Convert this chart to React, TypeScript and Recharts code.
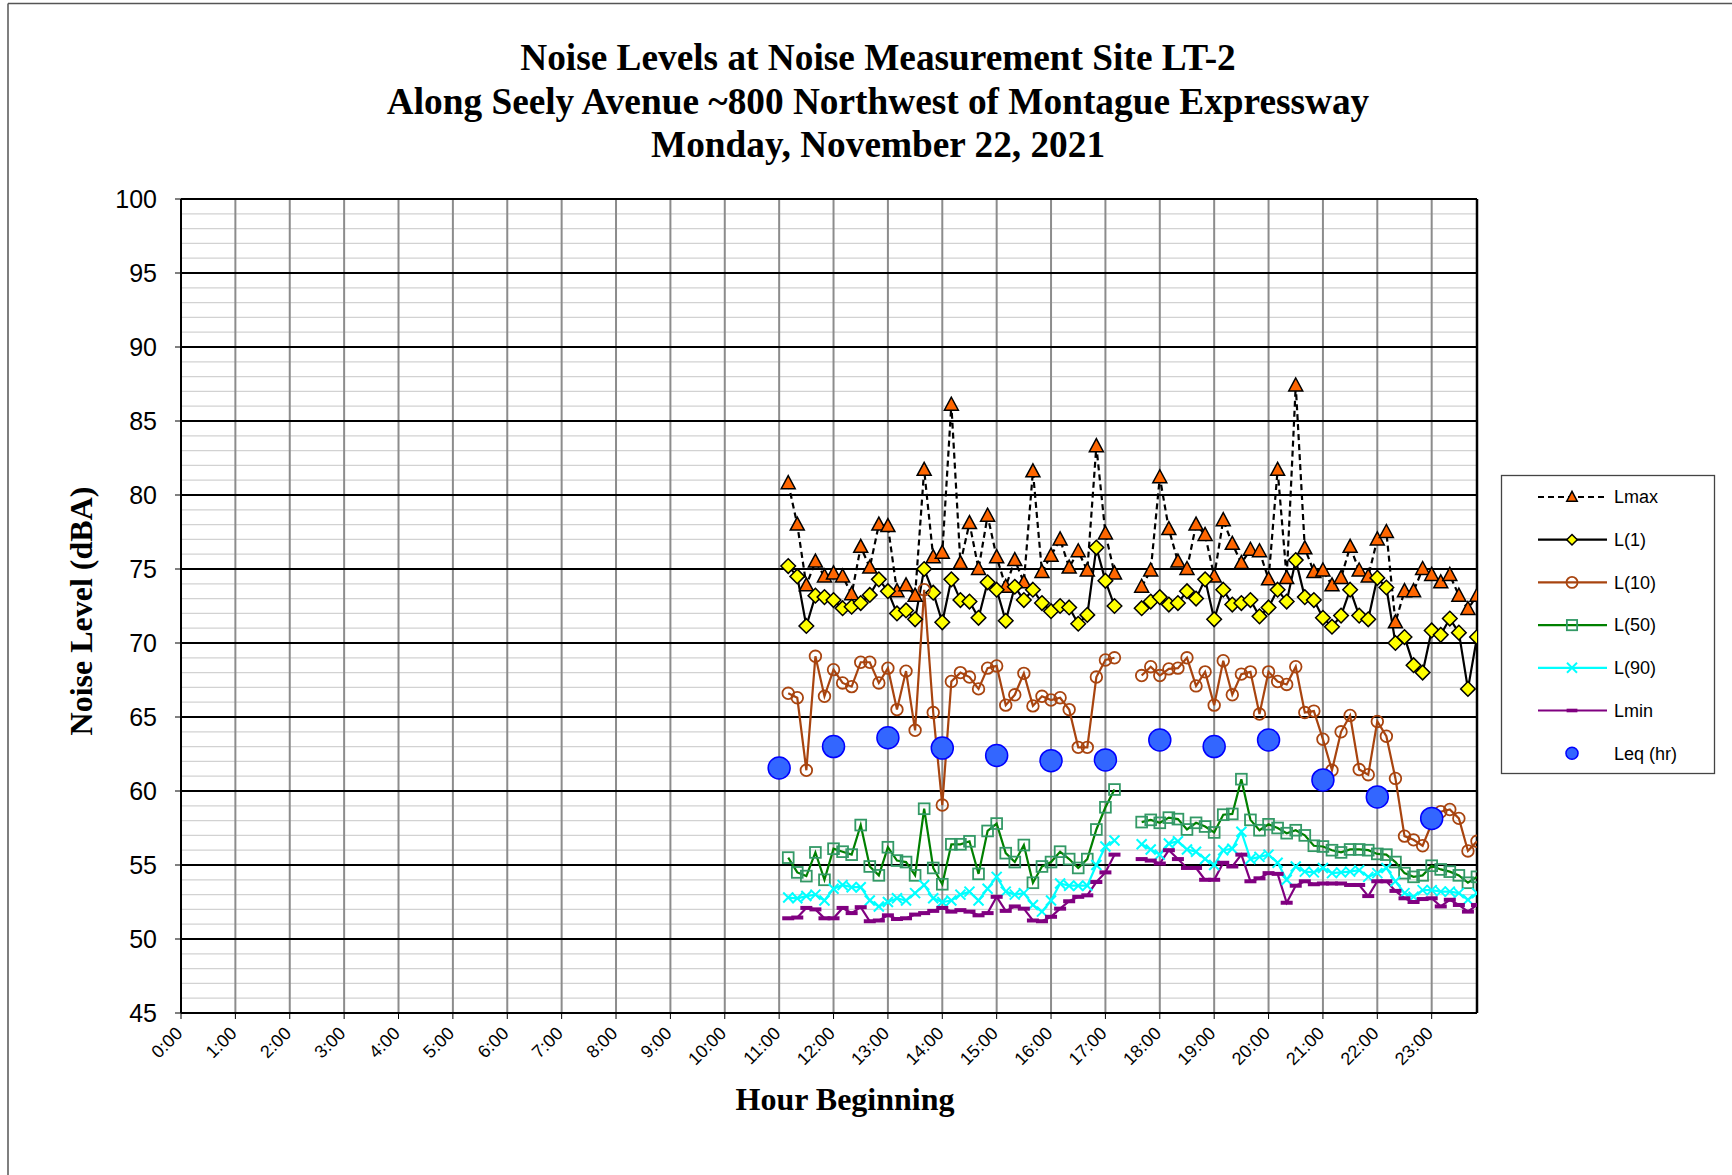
import React from 'react';
import { LineChart, Line, XAxis, YAxis, ReferenceLine } from 'recharts';

const times = [
  "11:00","11:10","11:20","11:30","11:40","11:50",
  "12:00","12:10","12:20","12:30","12:40","12:50",
  "13:00","13:10","13:20","13:30","13:40","13:50",
  "14:00","14:10","14:20","14:30","14:40","14:50",
  "15:00","15:10","15:20","15:30","15:40","15:50",
  "16:00","16:10","16:20","16:30","16:40","16:50",
  "17:00","17:10","17:20","17:30","17:40","17:50",
  "18:00","18:10","18:20","18:30","18:40","18:50",
  "19:00","19:10","19:20","19:30","19:40","19:50",
  "20:00","20:10","20:20","20:30","20:40","20:50",
  "21:00","21:10","21:20","21:30","21:40","21:50",
  "22:00","22:10","22:20","22:30","22:40","22:50",
  "23:00","23:10","23:20","23:30","23:40","23:50",
];

const lmax = [
  null, 80.8, 78.0, 73.9, 75.5, 74.5,
  74.7, 74.5, 73.3, 76.5, 75.1, 78.0,
  77.9, 73.5, 73.9, 73.2, 81.7, 75.8,
  76.1, 86.1, 75.4, 78.1, 75.0, 78.6,
  75.8, 73.8, 75.6, 74.1, 81.6, 74.8,
  75.9, 77.0, 75.1, 76.2, 74.9, 83.3,
  77.4, 74.7, null, null, 73.8, 74.9,
  81.2, 77.7, 75.5, 75.0, 78.0, 77.3,
  74.5, 78.3, 76.7, 75.4, 76.3, 76.2,
  74.3, 81.7, 74.4, 87.4, 76.4, 74.8,
  74.9, 73.9, 74.4, 76.5, 74.9, 74.5,
  77.0, 77.5, 71.4, 73.5, 73.5, 75.0,
  74.6, 74.1, 74.6, 73.2, 72.3, 73.2,
];

const l1 = [
  null, 75.2, 74.5, 71.15, 73.2, 73.1,
  72.9, 72.35, 72.45, 72.7, 73.25, 74.3,
  73.5, 72.0, 72.2, 71.6, 75.0, 73.4,
  71.4, 74.3, 72.9, 72.8, 71.7, 74.1,
  73.6, 71.5, 73.8, 72.9, 73.6, 72.7,
  72.15, 72.5, 72.4, 71.3, 71.9, 76.45,
  74.2, 72.5, null, null, 72.35, 72.8,
  73.1, 72.6, 72.7, 73.5, 73.0, 74.3,
  71.6, 73.6, 72.6, 72.7, 72.9, 71.8,
  72.4, 73.6, 72.8, 75.6, 73.1, 72.9,
  71.7, 71.1, 71.85, 73.6, 71.85, 71.6,
  74.4, 73.75, 70.0, 70.4, 68.5, 68.0,
  70.85, 70.55, 71.65, 70.7, 66.9, 70.4,
];

const l10 = [
  null, 66.6, 66.3, 61.4, 69.1, 66.4,
  68.2, 67.3, 67.05, 68.7, 68.7, 67.3,
  68.3, 65.5, 68.1, 64.1, 73.6, 65.3,
  59.05, 67.4, 68.0, 67.7, 66.9, 68.3,
  68.45, 65.8, 66.5, 67.95, 65.75, 66.4,
  66.15, 66.3, 65.5, 62.95, 62.95, 67.7,
  68.85, 69.0, null, null, 67.8, 68.4,
  67.8, 68.25, 68.3, 69.0, 67.1, 68.05,
  65.8, 68.8, 66.5, 67.9, 68.05, 65.2,
  68.05, 67.4, 67.2, 68.4, 65.3, 65.4,
  63.5, 61.4, 64.0, 65.1, 61.45, 61.1,
  64.7, 63.7, 60.85, 56.95, 56.7, 56.3,
  57.8, 58.6, 58.75, 58.15, 55.95, 56.6,
];

const l50 = [
  null, 55.5, 54.5, 54.25, 55.85, 54.0,
  56.1, 55.9, 55.7, 57.7, 54.9, 54.3,
  56.2, 55.3, 55.2, 54.3, 58.8, 54.8,
  53.7, 56.4, 56.4, 56.6, 54.4, 57.3,
  57.8, 55.8, 55.2, 56.35, 53.8, 54.9,
  55.2, 55.9, 55.4, 54.8, 55.4, 57.4,
  58.9, 60.1, null, null, 57.9, 58.05,
  57.85, 58.2, 58.1, 57.4, 57.85, 57.6,
  57.2, 58.4, 58.45, 60.8, 58.05, 57.35,
  57.75, 57.5, 57.15, 57.35, 57.0, 56.3,
  56.25, 56.0, 55.85, 56.05, 56.05, 56.0,
  55.75, 55.7, 55.2, 54.45, 54.2, 54.3,
  54.95, 54.7, 54.55, 54.3, 53.8, 54.2,
];

const l90 = [
  null, 52.8, 52.75, 52.9, 53.0, 52.6,
  53.4, 53.65, 53.5, 53.5, 52.6, 52.2,
  52.5, 52.75, 52.6, 53.1, 53.65, 52.75,
  52.5, 52.6, 53.0, 53.2, 52.6, 53.4,
  54.2, 53.2, 53.0, 53.1, 52.3, 51.85,
  52.6, 53.75, 53.6, 53.6, 53.6, 55.0,
  56.25, 56.65, null, null, 56.4, 56.05,
  55.7, 56.45, 56.6, 56.05, 55.9, 55.4,
  55.0, 56.0, 56.1, 57.25, 55.4, 55.55,
  55.7, 55.15, 54.0, 54.9, 54.55, 54.5,
  54.8, 54.45, 54.5, 54.55, 54.65, 54.2,
  54.45, 54.8, 53.9, 53.1, 52.85, 53.3,
  53.3, 53.2, 53.2, 53.1, 52.65, 53.1,
];

const lmin = [
  null, 51.4, 51.45, 52.1, 52.0, 51.4,
  51.4, 52.1, 51.75, 52.15, 51.2, 51.25,
  51.6, 51.35, 51.4, 51.65, 51.75, 51.9,
  52.1, 51.85, 51.95, 51.85, 51.6, 51.75,
  52.85, 51.9, 52.2, 52.05, 51.25, 51.2,
  51.5, 52.05, 52.55, 52.85, 52.95, 53.85,
  54.5, 55.7, null, null, 55.4, 55.3,
  55.1, 56.0, 55.4, 54.8, 54.8, 54.0,
  54.0, 55.15, 54.9, 55.7, 53.9, 54.1,
  54.45, 54.4, 52.45, 53.6, 53.9, 53.7,
  53.75, 53.75, 53.75, 53.65, 53.65, 52.9,
  53.9, 53.9, 53.25, 52.75, 52.5, 52.7,
  52.75, 52.2, 52.65, 52.3, 51.85, 52.3,
];

const leqTimes = ["11:00","12:00","13:00","14:00","15:00","16:00","17:00","18:00","19:00","20:00","21:00","22:00","23:00"];
const leq = [61.55, 63.0, 63.6, 62.9, 62.4, 62.05, 62.1, 63.45, 63.0, 63.45, 60.75, 59.6, 58.15];

const hourTicks = [0,1,2,3,4,5,6,7,8,9,10,11,12,13,14,15,16,17,18,19,20,21,22,23];
const yTicks = [45,50,55,60,65,70,75,80,85,90,95,100];
const yMinor: number[] = [];
for (let v = 46; v < 100; v++) if (v % 5 !== 0) yMinor.push(v);

const X_MAX = 23 + 50 / 60;

const toHours = (s: string) => {
  const [h, m] = s.split(':').map(Number);
  return h + m / 60;
};

const data = times.map((t, i) => {
  const k = leqTimes.indexOf(t);
  return {
    t: toHours(t),
    Lmax: lmax[i],
    L1: l1[i],
    L10: l10[i],
    L50: l50[i],
    L90: l90[i],
    Lmin: lmin[i],
    Leq: k >= 0 ? leq[k] : null,
  };
});

const C = {
  tri: '#FF6600',
  dia: '#FFFF00',
  brown: '#A8440F',
  green: '#008000',
  sq: '#339966',
  cyan: '#00FFFF',
  purple: '#800080',
  leqFill: '#3366FF',
  leqStroke: '#0000FF',
};

const FONT_SANS = 'Arial, "Liberation Sans", sans-serif';
const FONT_SERIF = '"Liberation Serif", "Times New Roman", serif';

const triShape = (cx: number, cy: number, s = 1, key?: string) => (
  <polygon key={key} points={`${cx},${cy - 7.5 * s} ${cx - 7 * s},${cy + 5.5 * s} ${cx + 7 * s},${cy + 5.5 * s}`}
    fill={C.tri} stroke="#000" strokeWidth={1.5} />
);
const diaShape = (cx: number, cy: number, s = 1, key?: string) => (
  <polygon key={key} points={`${cx},${cy - 7.3 * s} ${cx + 7.3 * s},${cy} ${cx},${cy + 7.3 * s} ${cx - 7.3 * s},${cy}`}
    fill={C.dia} stroke="#000" strokeWidth={1.5} />
);
const circShape = (cx: number, cy: number, s = 1, key?: string) => (
  <circle key={key} cx={cx} cy={cy} r={5.8 * s} fill="none" stroke={C.brown} strokeWidth={1.8} />
);
const sqShape = (cx: number, cy: number, s = 1, key?: string) => (
  <rect key={key} x={cx - 5.4 * s} y={cy - 5.4 * s} width={10.8 * s} height={10.8 * s} fill="none" stroke={C.sq} strokeWidth={1.8} />
);
const xShape = (cx: number, cy: number, s = 1, key?: string) => (
  <g key={key}>
    <line x1={cx - 5 * s} y1={cy - 5 * s} x2={cx + 5 * s} y2={cy + 5 * s} stroke={C.cyan} strokeWidth={2} />
    <line x1={cx - 5 * s} y1={cy + 5 * s} x2={cx + 5 * s} y2={cy - 5 * s} stroke={C.cyan} strokeWidth={2} />
  </g>
);
const dashShape = (cx: number, cy: number, s = 1, key?: string) => (
  <rect key={key} x={cx - 6 * s} y={cy - 2 * s} width={12 * s} height={4 * s} fill={C.purple} />
);
const leqShape = (cx: number, cy: number, s = 1, key?: string) => (
  <circle key={key} cx={cx} cy={cy} r={11 * s} fill={C.leqFill} stroke={C.leqStroke} strokeWidth={1.5} />
);

const makeDot = (name: string, fn: (cx: number, cy: number, s?: number, key?: string) => React.ReactElement) =>
  (props: any) => {
    const { cx, cy, value, index } = props;
    const key = `${name}-${index}`;
    if (cx == null || cy == null || value == null || Number.isNaN(cx) || Number.isNaN(cy)) return <g key={key} />;
    return fn(cx, cy, 1, key);
  };

const series = [
  { key: 'Lmax', label: 'Lmax', stroke: '#000', dash: '6 4', shape: triShape, legendScale: 0.75 },
  { key: 'L1', label: 'L(1)', stroke: '#000', dash: undefined, shape: diaShape, legendScale: 0.72 },
  { key: 'L10', label: 'L(10)', stroke: C.brown, dash: undefined, shape: circShape, legendScale: 0.95 },
  { key: 'L50', label: 'L(50)', stroke: C.green, dash: undefined, shape: sqShape, legendScale: 0.95 },
  { key: 'L90', label: 'L(90)', stroke: C.cyan, dash: undefined, shape: xShape, legendScale: 1 },
  { key: 'Lmin', label: 'Lmin', stroke: C.purple, dash: undefined, shape: dashShape, legendScale: 0.9 },
  { key: 'Leq', label: 'Leq (hr)', stroke: 'none', dash: undefined, shape: leqShape, legendScale: 0.55 },
];

const XTick = (props: any) => {
  const { x, y, payload } = props;
  return (
    <g transform={`translate(${x - 2},${y})`}>
      <text x={0} y={0} dy="0.35em" textAnchor="end" transform="rotate(-45)" fontSize={18}
        fontFamily={FONT_SANS} fill="#000">{`${payload.value}:00`}</text>
    </g>
  );
};

export default function App() {
  return (
    <div style={{ position: 'absolute', left: 0, top: 0, width: 1732, height: 1175, background: '#fff', overflow: 'hidden' }}>
      <LineChart width={1732} height={1175} data={data}
        margin={{ top: 199, right: 255, bottom: 102, left: 121 }}>
        {yMinor.map((v) => (
          <ReferenceLine key={`mn${v}`} y={v} stroke="#d2d2d2" strokeWidth={1.3} />
        ))}
        {hourTicks.slice(1).map((h) => (
          <ReferenceLine key={`vh${h}`} x={h} stroke="#8c8c8c" strokeWidth={2} />
        ))}
        {yTicks.map((v) => (
          <ReferenceLine key={`mj${v}`} y={v} stroke="#000" strokeWidth={2} />
        ))}
        <ReferenceLine x={X_MAX} stroke="#000" strokeWidth={2.5} />
        <XAxis dataKey="t" type="number" domain={[0, X_MAX]} ticks={hourTicks} allowDataOverflow
          interval={0} tick={<XTick />} tickSize={6} tickMargin={11} height={60}
          axisLine={{ stroke: '#000', strokeWidth: 2 }} tickLine={{ stroke: '#000', strokeWidth: 1 }} />
        <YAxis type="number" domain={[45, 100]} ticks={yTicks} allowDataOverflow interval={0} width={60}
          tickSize={6} tickMargin={18}
          tick={{ fontSize: 25, fill: '#000', fontFamily: FONT_SANS }}
          axisLine={{ stroke: '#000', strokeWidth: 2 }} tickLine={{ stroke: '#000', strokeWidth: 1 }} />
        {series.map((s) => (
          <Line key={s.key} dataKey={s.key} type="linear" stroke={s.stroke} strokeWidth={s.key === 'Leq' ? 0 : 2.2}
            strokeDasharray={s.dash} dot={makeDot(s.key, s.shape)} activeDot={false}
            connectNulls={false} isAnimationActive={false} />
        ))}
      </LineChart>

      <svg width={1732} height={1175} style={{ position: 'absolute', left: 0, top: 0, pointerEvents: 'none' }}>
        <line x1={8} y1={3.5} x2={1732} y2={3.5} stroke="#555" strokeWidth={1.5} />
        <line x1={8} y1={3.5} x2={8} y2={1175} stroke="#555" strokeWidth={1.5} />
        <g fontFamily={FONT_SERIF} fontWeight="bold" fontSize={37.3} textAnchor="middle" fill="#000">
          <text x={878} y={70}>Noise Levels at Noise Measurement Site LT-2</text>
          <text x={878} y={114}>Along Seely Avenue ~800 Northwest of Montague Expressway</text>
          <text x={878} y={157}>Monday, November 22, 2021</text>
        </g>
        <text x={845} y={1110} fontFamily={FONT_SERIF} fontWeight="bold" fontSize={32} textAnchor="middle" fill="#000">Hour Beginning</text>
        <text transform="translate(92,611) rotate(-90)" x={0} y={0} fontFamily={FONT_SERIF} fontWeight="bold" fontSize={32}
          textAnchor="middle" fill="#000">Noise Level (dBA)</text>
        <g>
          <rect x={1501.5} y={475.5} width={213} height={298} fill="#fff" stroke="#444" strokeWidth={1.3} />
          {series.map((s, i) => {
            const y = 497 + i * 42.7;
            return (
              <g key={s.key}>
                {s.stroke !== 'none' && (
                  <line x1={1538} y1={y} x2={1607} y2={y} stroke={s.stroke} strokeWidth={2.2} strokeDasharray={s.dash} />
                )}
                {s.shape(1572, y, s.legendScale)}
                <text x={1614} y={y} dy="0.35em" fontFamily={FONT_SANS} fontSize={18} fill="#000">{s.label}</text>
              </g>
            );
          })}
        </g>
      </svg>
    </div>
  );
}
